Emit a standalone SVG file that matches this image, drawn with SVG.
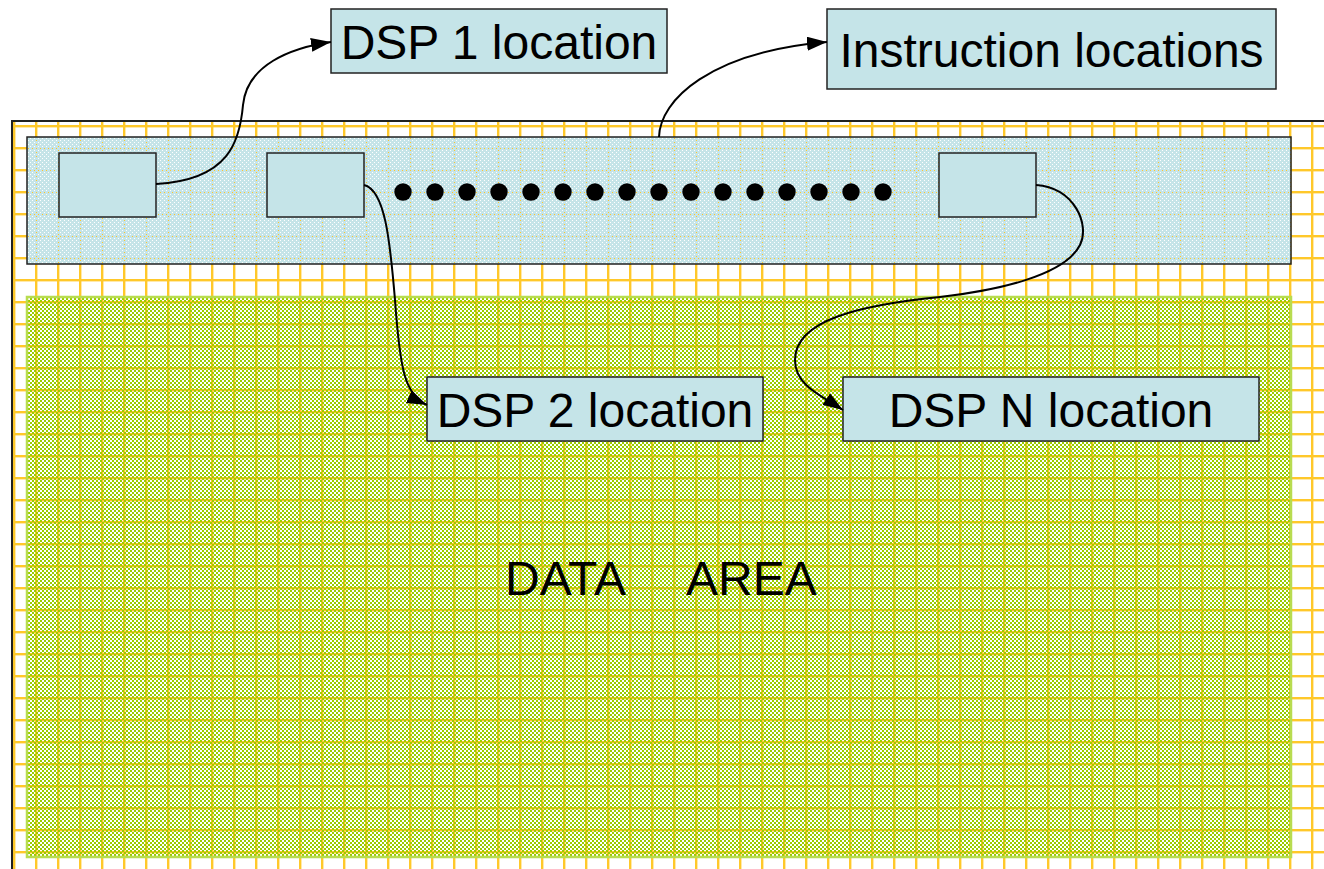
<svg xmlns="http://www.w3.org/2000/svg" width="1324" height="869" viewBox="0 0 1324 869">
  <style>
    .box { fill: #c5e4e8; stroke: #222; stroke-width: 1.5; }
    .lbl { font-family: "Liberation Sans", Arial, sans-serif; font-size: 48px; fill: #000; }
    .conn { fill: none; stroke: #000; stroke-width: 2; }
    .dot { fill: #000; }
  </style>
  <defs>
    <pattern id="grid" patternUnits="userSpaceOnUse" x="13" y="125" width="22" height="22">
      <rect x="0" y="0" width="2.4" height="22" fill="#ffc82a"/>
      <rect x="0" y="0" width="22" height="2.4" fill="#ffc82a"/>
    </pattern>
    <pattern id="bluetex" patternUnits="userSpaceOnUse" x="0" y="0" width="4" height="4">
      <rect x="1" y="0" width="3" height="1" fill="#c5e4e8"/>
      <rect x="0" y="1" width="4" height="1" fill="#c5e4e8"/>
      <rect x="0" y="2" width="2" height="1" fill="#c5e4e8"/>
      <rect x="3" y="2" width="1" height="1" fill="#c5e4e8"/>
      <rect x="0" y="3" width="4" height="1" fill="#c5e4e8"/>
    </pattern>
    <pattern id="greentex" patternUnits="userSpaceOnUse" x="0" y="0" width="4" height="4">
      <rect x="0" y="0" width="2" height="2" fill="#99cc00"/>
      <rect x="2" y="2" width="2" height="2" fill="#99cc00"/>
    </pattern>
    <marker id="arrow" markerUnits="userSpaceOnUse" markerWidth="20" markerHeight="14" refX="20" refY="7" orient="auto">
      <path d="M0,0 L20,7 L0,14 z" fill="#000"/>
    </marker>
  </defs>

  <rect x="0" y="0" width="1324" height="869" fill="#fff"/>

  <g id="memory-frame">
    <rect x="12" y="121" width="1312" height="748" fill="url(#grid)"/>
    <path d="M11,121 H1324 M12,121 V869" fill="none" stroke="#222" stroke-width="2"/>
  </g>

  <g id="instruction-band">
    <rect x="27" y="137" width="1264" height="127" fill="url(#bluetex)" stroke="#222" stroke-width="1.5"/>
  </g>

  <g id="data-area">
    <rect x="27" y="297" width="1264" height="560" fill="url(#greentex)" stroke="#b8dc50" stroke-width="2.5"/>
    <text class="lbl" x="505" y="595">DATA <tspan x="686">AREA</tspan></text>
  </g>

  <g id="slot-1"><rect class="box" x="59" y="153" width="97" height="64"/></g>
  <g id="slot-2"><rect class="box" x="267" y="153" width="97" height="64"/></g>
  <g id="slot-n"><rect class="box" x="939" y="153" width="97" height="64"/></g>

  <g id="ellipsis-dots">
    <circle class="dot" cx="403" cy="192" r="8.7"/>
    <circle class="dot" cx="435" cy="192" r="8.7"/>
    <circle class="dot" cx="467" cy="192" r="8.7"/>
    <circle class="dot" cx="499" cy="192" r="8.7"/>
    <circle class="dot" cx="531" cy="192" r="8.7"/>
    <circle class="dot" cx="563" cy="192" r="8.7"/>
    <circle class="dot" cx="595" cy="192" r="8.7"/>
    <circle class="dot" cx="627" cy="192" r="8.7"/>
    <circle class="dot" cx="659" cy="192" r="8.7"/>
    <circle class="dot" cx="691" cy="192" r="8.7"/>
    <circle class="dot" cx="723" cy="192" r="8.7"/>
    <circle class="dot" cx="755" cy="192" r="8.7"/>
    <circle class="dot" cx="787" cy="192" r="8.7"/>
    <circle class="dot" cx="819" cy="192" r="8.7"/>
    <circle class="dot" cx="851" cy="192" r="8.7"/>
    <circle class="dot" cx="883" cy="192" r="8.7"/>
  </g>

  <g id="dsp1-label">
    <rect class="box" x="331" y="9" width="336" height="64"/>
    <text class="lbl" x="499" y="59" text-anchor="middle">DSP 1 location</text>
  </g>
  <g id="instr-label">
    <rect class="box" x="827" y="9" width="449" height="80"/>
    <text class="lbl" x="1051.5" y="67" text-anchor="middle">Instruction locations</text>
  </g>
  <g id="dsp2-label">
    <rect class="box" x="427" y="377" width="336" height="64"/>
    <text class="lbl" x="595" y="427" text-anchor="middle">DSP 2 location</text>
  </g>
  <g id="dspn-label">
    <rect class="box" x="843" y="377" width="416" height="64"/>
    <text class="lbl" x="1051" y="427" text-anchor="middle">DSP N location</text>
  </g>

  <g id="connectors">
    <path class="conn" marker-end="url(#arrow)" d="M156,184 C230,180 240,140 243,105 C247,65 290,48 331,42"/>
    <path class="conn" marker-end="url(#arrow)" d="M364,185 C385,190 390,240 395,300 C400,370 405,395 427,405"/>
    <path class="conn" marker-end="url(#arrow)" d="M1036,185 C1075,188 1090,225 1080,245 C1065,275 1000,290 940,297 C860,305 795,320 795,360 C795,385 820,395 843,410"/>
    <path class="conn" marker-end="url(#arrow)" d="M659,137 C660,100 710,52 827,42"/>
  </g>
</svg>
